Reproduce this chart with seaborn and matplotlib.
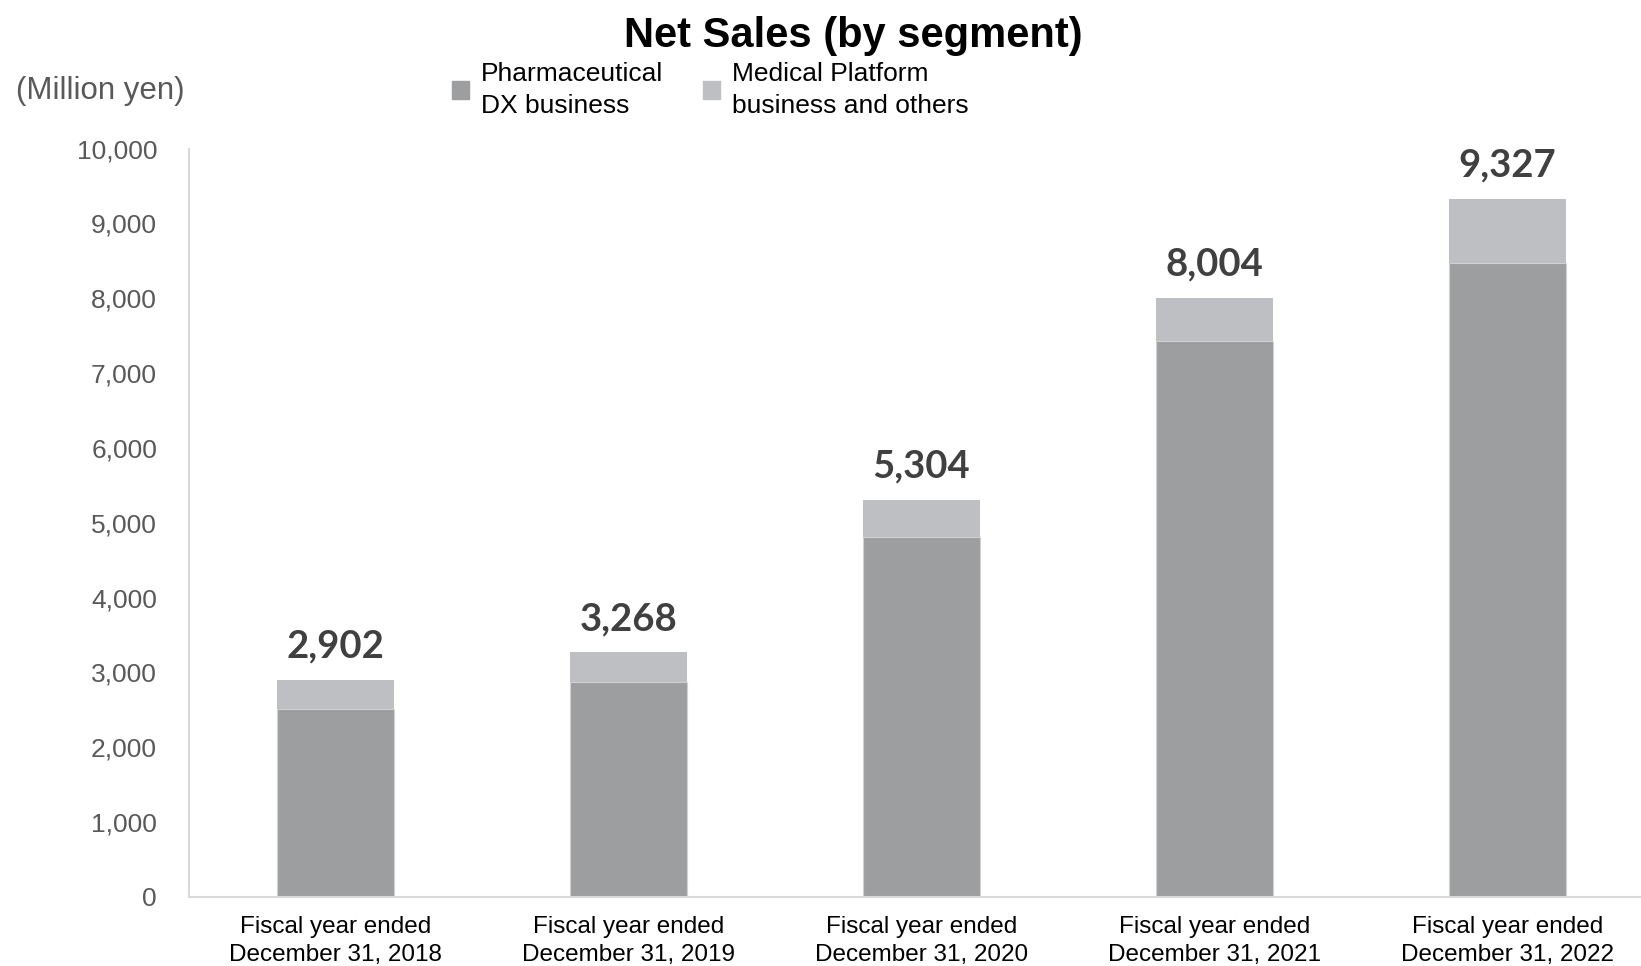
import matplotlib
matplotlib.use("Agg")
import matplotlib.pyplot as plt
import seaborn as sns
import pandas as pd
from matplotlib.patches import Patch

# data (million yen)
years = ["Fiscal year ended\nDecember 31, 2018", "Fiscal year ended\nDecember 31, 2019",
         "Fiscal year ended\nDecember 31, 2020", "Fiscal year ended\nDecember 31, 2021",
         "Fiscal year ended\nDecember 31, 2022"]
pharma_dx = [2515, 2877, 4806, 7429, 8475]
medical_platform = [387, 391, 498, 575, 852]
totals = [2902, 3268, 5304, 8004, 9327]
total_labels = ["2,902", "3,268", "5,304", "8,004", "9,327"]

df = pd.DataFrame({"year": years, "pharma": pharma_dx, "total": totals})

sns.set_style("white")
plt.rcParams["font.family"] = ["Liberation Sans", "DejaVu Sans"]
plt.rcParams["text.color"] = "black"

c_dark = "#9D9EA0"
c_light = "#BEBFC2"
c_axis = "#D9D9D9"
c_tick = "#595959"

fig = plt.figure(figsize=(16.41, 9.66), dpi=100)
ax = fig.add_axes([189 / 1641, 69 / 966, 1465 / 1641, (897 - 148.6) / 966])

# stacked look: total in light grey, pharma on top of it in dark grey
sns.barplot(data=df, x="year", y="total", color=c_light, width=0.4,
            saturation=1, ax=ax, edgecolor="none")
sns.barplot(data=df, x="year", y="pharma", color=c_dark, width=0.4,
            saturation=1, ax=ax, edgecolor="#D0D1D3", linewidth=0.8)

ax.set_xlim(-0.5, 4.5)
ax.set_ylim(0, 10000)
ax.set_yticks(range(0, 10001, 1000))
ax.set_yticklabels([f"{v:,}" for v in range(0, 10001, 1000)],
                   fontsize=19, color=c_tick)
ax.tick_params(axis="y", length=9, color=c_axis, pad=14)
ax.tick_params(axis="x", length=0, pad=14)
for lab in ax.get_xticklabels():
    lab.set_fontsize(17.5)
    lab.set_color("black")
    lab.set_linespacing(1.35)
ax.set_xlabel("")
ax.set_ylabel("")

for s in ["top", "right"]:
    ax.spines[s].set_visible(False)
for s in ["left", "bottom"]:
    ax.spines[s].set_color(c_axis)
    ax.spines[s].set_linewidth(1.5)

for i, (t, lab) in enumerate(zip(totals, total_labels)):
    ax.annotate(lab, (i, t), xytext=(0, 16), textcoords="offset points",
                ha="center", va="baseline", fontsize=27.5, fontweight="bold",
                color="#404040", family=["Lato", "DejaVu Sans"])

fig.text(853 / 1641, 1 - 36 / 966, "Net Sales (by segment)", ha="center",
         va="center", fontsize=30, fontweight="bold", color="black")
fig.text(16 / 1641, 1 - 91 / 966, "(Million yen)", ha="left", va="center",
         fontsize=22.5, color=c_tick)

handles = [Patch(color=c_dark), Patch(color=c_light)]
labels = ["Pharmaceutical\nDX business", "Medical Platform\nbusiness and others"]
leg = fig.legend(handles, labels, ncol=2, loc="center left",
                 bbox_to_anchor=(428 / 1641, 1 - 90 / 966), frameon=False,
                 fontsize=19, handlelength=0.65, handleheight=0.65,
                 handletextpad=0.45, columnspacing=1.5, labelcolor="black")
for txt in leg.get_texts():
    txt.set_linespacing(1.4)

fig.savefig("out.png", dpi=100)
